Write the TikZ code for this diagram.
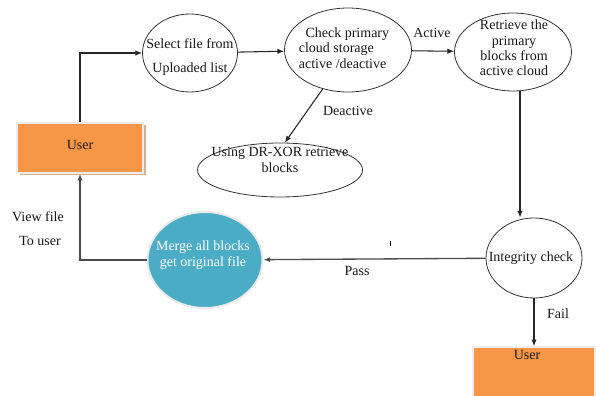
\documentclass[tikz,border=0pt]{standalone}
\usepackage{fontspec}
\setmainfont{Liberation Serif}
\usetikzlibrary{shapes.geometric,arrows.meta}
\definecolor{boxorange}{HTML}{F79646}
\definecolor{mergeteal}{HTML}{4BACC6}
\definecolor{shadowtan}{HTML}{D9B08C}
\begin{document}
\begin{tikzpicture}[x=0.75pt,y=-0.75pt,
  every node/.style={font=\fontsize{10.5}{11.5}\selectfont, inner sep=0pt},
  stage/.style={ellipse, draw=black!80, line width=0.6pt},
  userbox/.style={rectangle, fill=boxorange, draw=black!7, line width=1.2pt},
  arr/.style={draw=black!85, line width=0.8pt, -{Latex[length=5pt,width=4pt]}},
  lbl/.style={text=black!90}]
\useasboundingbox[fill=white] (0,0) rectangle (596,396);

% user box on the left, with its drop shadow
\fill[shadowtan] (20,125) rectangle (146,175);
\node[userbox, minimum width=94.5pt, minimum height=37.5pt] (user) at (80,148) {};
\node[lbl] at (80,145) {User};

% process stages
\node[stage, minimum width=71.25pt, minimum height=58.5pt] (select) at (190,53) {};
\node[lbl, align=center] at (190,57) {Select file from\\[7pt]Uploaded list};

\node[stage, minimum width=95.25pt, minimum height=63pt] (check) at (348,50) {};
\node[lbl, align=left] at (344,48) {\hspace*{5pt}Check primary\\cloud storage\\active /deactive};

\node[stage, minimum width=87.75pt, minimum height=58.5pt] (retrieve) at (513,52) {};
\node[lbl, align=center] at (514,48) {Retrieve the\\primary\\blocks from\\active cloud};

\node[stage, minimum width=123.75pt, minimum height=40.5pt] (drxor) at (280,170) {};
\node[lbl, align=center] at (280,160) {Using DR-XOR retrieve\\blocks};

\node[stage, minimum width=72pt, minimum height=60pt] (integrity) at (534,258) {};
\node[lbl] at (531,258) {Integrity check};

% merge stage, teal disc with a pale rim
\node[ellipse, fill=mergeteal, draw=black!8, line width=1.5pt,
      minimum width=86.25pt, minimum height=72pt] (merge) at (205,260) {};
\node[text=white, align=center] at (203,255) {Merge all blocks\\get original file};

% user box at the bottom right
\node[userbox, minimum width=91.5pt, minimum height=47.25pt] (user2) at (534,378.5) {};
\node[lbl] at (527,355) {User};

% connectors
\draw[arr] (user.north) |- (select.west);
\draw[arr] (select) -- (check);
\draw[arr] (check) -- (retrieve);
\draw[arr] (check.237) -- (drxor.80);
\draw[arr] ([xshift=5.25pt]retrieve.south) -- ([xshift=5.25pt]retrieve.south |- integrity.north);
\draw[arr, draw=black!70, line width=1pt] (integrity) -- (merge);
\draw[arr] (integrity.south) -- (user2.north);
\draw[arr, draw=black!70, line width=1pt] (merge.west) -| (user.south);

% connector labels
\node[lbl] at (432,33) {Active};
\node[lbl] at (348,111) {Deactive};
\node[lbl] at (357,271) {Pass};
\node[lbl] at (558,314) {Fail};
\node[lbl] at (38,217) {View file};
\node[lbl] at (40,241) {To user};
\draw[line width=0.6pt] (390,241) -- (390,246);
\end{tikzpicture}
\end{document}
